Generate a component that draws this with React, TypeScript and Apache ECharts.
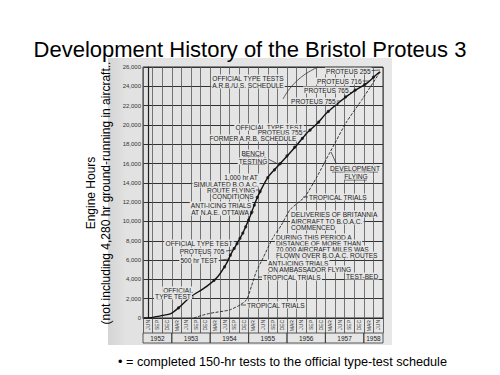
import React, { useEffect, useRef } from "react";
import * as echarts from "echarts";

// Quarter labels along the time axis (index 0 = JUN 1952, 24 = JUN 1958)
const monthLabels = [
  "JUN", "SEP", "DEC",
  "MAR", "JUN", "SEP", "DEC",
  "MAR", "JUN", "SEP", "DEC",
  "MAR", "JUN", "SEP", "DEC",
  "MAR", "JUN", "SEP", "DEC",
  "MAR", "JUN", "SEP", "DEC",
  "MAR", "JUN",
];
const yearLabels = ["1952", "1953", "1954", "1955", "1956", "1957", "1958"];

// [quarter index, cumulative engine hours]
const totalHours: [number, number][] = [
  [-0.4, 0], [0.5, 70], [1.5, 260], [2.4, 460], [3.2, 1050], [4.4, 2150],
  [6.1, 3250], [7.3, 4300], [8.2, 5650], [8.7, 6700], [9.2, 7550], [9.9, 8800],
  [10.6, 10400], [11.2, 12000], [11.8, 13300], [12.6, 14700], [13.7, 15900],
  [14.8, 17100], [15.6, 18000], [16.6, 19200], [17.7, 20200], [18.6, 21200],
  [20.0, 22400], [21.4, 23450], [22.8, 24300], [23.8, 25200], [24.2, 25500],
];

const flyingHours: [number, number][] = [
  [4.8, 0], [5.6, 260], [6.5, 490], [8.5, 830], [9.6, 1350], [10.3, 1900],
  [10.8, 3300], [11.3, 4800], [12.0, 6200], [13.0, 8250], [13.9, 9600],
  [14.8, 11200], [15.6, 11900], [16.4, 12600], [17.6, 14600], [19.0, 17200],
  [20.7, 20300], [22.4, 22750], [24.2, 25500],
];

// completed 150-hr tests to the official type-test schedule
const typeTestDots: [number, number][] = [
  [3.2, 1050], [4.4, 2150], [6.9, 3900], [8.0, 5300], [8.6, 6500], [9.0, 7200],
  [9.3, 7700], [9.6, 8250], [9.9, 8800], [10.2, 9450], [10.5, 10150],
  [10.8, 10900], [11.1, 11700], [11.4, 12500], [11.7, 13100], [12.5, 14550],
  [13.2, 15350], [13.8, 16000], [14.5, 16800], [15.3, 17700], [16.1, 18600],
  [16.9, 19450], [17.8, 20300], [18.8, 21400], [19.7, 22150], [20.6, 22900],
  [21.6, 23600], [22.6, 24200], [23.5, 24950],
];

const notes: [string, number, number, "left" | "center" | "right"][] = [
  ["OFFICIAL TYPE TESTS", 248, 78, "center"],
  ["A.R.B./U.S. SCHEDULE", 248, 85, "center"],
  ["PROTEUS 255", 325, 71, "left"],
  ["PROTEUS 716", 316, 81, "left"],
  ["PROTEUS 765", 303, 90, "left"],
  ["PROTEUS 755", 290, 101, "left"],
  ["OFFICIAL TYPE TEST", 269, 127, "center"],
  ["PROTEUS 755", 280, 132.5, "center"],
  ["FORMER A.R.B. SCHEDULE", 253, 138, "center"],
  ["BENCH", 253, 153, "center"],
  ["TESTING", 253, 161, "center"],
  ["DEVELOPMENT", 355, 168, "center"],
  ["FLYING", 356, 176, "center"],
  ["1,000 hr AT", 241, 177, "center"],
  ["SIMULATED B.O.A.C.", 226, 184, "center"],
  ["ROUTE FLYING", 231, 190, "center"],
  ["CONDITIONS", 233, 196, "center"],
  ["ANTI-ICING TRIALS", 221, 205, "center"],
  ["AT N.A.E. OTTAWA", 220, 212, "center"],
  ["TROPICAL TRIALS", 308, 197, "left"],
  ["DELIVERIES OF BRITANNIA", 290, 214, "left"],
  ["AIRCRAFT TO B.O.A.C.", 290, 221, "left"],
  ["COMMENCED", 290, 227, "left"],
  ["DURING THIS PERIOD A", 275, 237, "left"],
  ["DISTANCE OF MORE THAN", 275, 243, "left"],
  ["70,000 AIRCRAFT MILES WAS", 275, 249, "left"],
  ["FLOWN OVER B.O.A.C. ROUTES", 275, 255, "left"],
  ["ANTI-ICING TRIALS", 267, 263, "left"],
  ["ON AMBASSADOR FLYING", 267, 269, "left"],
  ["TEST-BED", 345, 276, "left"],
  ["TROPICAL TRIALS", 262, 277, "left"],
  ["OFFICIAL TYPE TEST", 199, 243, "center"],
  ["PROTEUS 705", 202, 251, "center"],
  ["500 hr TEST", 199, 260, "center"],
  ["OFFICIAL", 178, 290, "center"],
  ["TYPE TEST", 173, 296, "center"],
  ["TROPICAL TRIALS", 246, 305, "left"],
];

const leaders: [number, number, number, number][] = [
  [364, 71, 380, 70],
  [356, 81, 369, 81],
  [343, 90, 352, 93],
  [333, 101, 341, 101],
  [298, 132.5, 306, 131],
  [264, 157, 280, 165],
  [336, 163, 331, 152],
  [255, 190, 260, 190],
  [249, 211, 254, 212],
  [226, 251, 233, 250],
  [221, 260, 229, 259],
  [157, 299, 194, 297],
  [303, 197, 308, 197],
  [258, 277, 262, 277],
  [241, 305, 246, 305],
  [243, 156.5, 263, 156.5],
  [242, 164.5, 265, 164.5],
  [332, 172, 378, 172],
  [345, 180, 367, 180],
];

const FONT = "Liberation Sans, Arial, sans-serif";

export default function App() {
  const ref = useRef<HTMLDivElement>(null);
  useEffect(() => {
    document.body.style.margin = "0";
    const chart = echarts.init(ref.current!, null, { renderer: "svg" });
    chart.setOption({
      animation: false,
      grid: {
        left: 143, top: 67, width: 240, height: 251,
        show: true, borderColor: "#2a2a2a", borderWidth: 1, backgroundColor: "transparent",
      },
      xAxis: [
        {
          type: "category", data: monthLabels, boundaryGap: true,
          axisLine: { show: true, lineStyle: { color: "#2a2a2a", width: 1 } },
          axisTick: { show: true, length: 15, lineStyle: { color: "#444", width: 0.8 } },
          axisLabel: { interval: 0, rotate: 90, fontSize: 5, fontFamily: FONT, color: "#333", margin: 2 },
          splitLine: { show: true, lineStyle: { color: "#555", width: 0.8 } },
        },
        { type: "value", min: -0.5, max: 24.5, show: false },
      ],
      yAxis: {
        type: "value", min: 0, max: 26000, interval: 2000,
        axisLine: { show: true, lineStyle: { color: "#222", width: 1.2 } },
        axisTick: { show: false },
        axisLabel: {
          fontSize: 6, fontFamily: FONT, color: "#333", margin: 2,
          formatter: (v: number) => v.toLocaleString("en-US"),
        },
        splitLine: { show: true, lineStyle: { color: "#333", width: 1 } },
      },
      series: [
        {
          name: "Total engine hours", type: "line", xAxisIndex: 1, data: totalHours,
          showSymbol: false, smooth: 0.25, lineStyle: { color: "#111", width: 1.4 }, z: 3,
        },
        {
          name: "Development flying", type: "line", xAxisIndex: 1, data: flyingHours,
          showSymbol: false, smooth: 0.2, lineStyle: { color: "#222", width: 0.9, type: [3, 1.5] }, z: 3,
        },
        {
          name: "150-hr tests", type: "scatter", xAxisIndex: 1, data: typeTestDots,
          symbolSize: 3.2, itemStyle: { color: "#111" }, z: 4,
        },
      ],
    });

    const graphics: any[] = [];
    // year boxes
    const yearStarts: number[] = [];
    monthLabels.forEach((m, i) => { if (i === 0 || m === "MAR") yearStarts.push(i); });
    yearLabels.forEach((yl, k) => {
      const s = yearStarts[k];
      const e = k + 1 < yearStarts.length ? yearStarts[k + 1] - 1 : monthLabels.length - 1;
      const x0 = chart.convertToPixel({ xAxisIndex: 1 }, s - 0.5) as number;
      const x1 = chart.convertToPixel({ xAxisIndex: 1 }, e + 0.5) as number;
      graphics.push({
        type: "rect", shape: { x: x0, y: 333, width: x1 - x0, height: 10 },
        style: { fill: "none", stroke: "#333", lineWidth: 0.8 },
      });
      graphics.push({
        type: "text", x: (x0 + x1) / 2, y: 338.5,
        style: { text: yl, fontSize: 6.5, fontFamily: FONT, fill: "#222", textAlign: "center", textVerticalAlign: "middle" },
      });
    });
    leaders.forEach(([x1, y1, x2, y2]) => {
      graphics.push({ type: "line", shape: { x1, y1, x2, y2 }, style: { stroke: "#222", lineWidth: 0.7 }, z: 5 });
    });
    graphics.push({
      type: "polyline", shape: { points: [[283, 99], [291, 87], [304, 75], [318, 67]], smooth: 0.4 },
      style: { stroke: "#222", lineWidth: 0.7, fill: "none" }, z: 5,
    });
    notes.forEach(([t, x, y, a]) => {
      graphics.push({
        type: "text", x, y, z: 6,
        style: {
          text: t, fontSize: 6.6, fontFamily: FONT, fill: "#1a1a1a", textAlign: a, textVerticalAlign: "middle",
          backgroundColor: "#e6e6e6", padding: [0, 1],
        },
      });
    });
    // titles and axis caption
    graphics.push({
      type: "text", x: 250, y: 49,
      style: { text: "Development History of the Bristol Proteus 3", fontSize: 22, fontFamily: FONT, fill: "#000", textAlign: "center", textVerticalAlign: "middle" },
    });
    graphics.push({
      type: "text", x: 91, y: 193, rotation: Math.PI / 2,
      style: { text: "Engine Hours", fontSize: 12, fontFamily: FONT, fill: "#000", textAlign: "center", textVerticalAlign: "middle" },
    });
    graphics.push({
      type: "text", x: 106, y: 193, rotation: Math.PI / 2,
      style: { text: "(not including 4,280 hr ground-running in aircraft..", fontSize: 12, fontFamily: FONT, fill: "#000", textAlign: "center", textVerticalAlign: "middle" },
    });
    graphics.push({
      type: "text", x: 118, y: 362,
      style: { text: "\u2022 = completed 150-hr tests to the official type-test schedule", fontSize: 12.7, fontFamily: FONT, fill: "#000", textAlign: "left", textVerticalAlign: "middle" },
    });
    chart.setOption({ graphic: graphics });
    return () => chart.dispose();
  }, []);

  return (
    <div style={{ position: "fixed", left: 0, top: 0, width: 500, height: 375, background: "#fff" }}>
      <div
        style={{
          position: "absolute", left: 108, top: 58, width: 284, height: 287,
          background: "linear-gradient(90deg, #d4d4d4 0px, #e2e2e2 18px, #e7e7e7 100%)",
        }}
      />
      <div ref={ref} style={{ position: "absolute", left: 0, top: 0, width: 500, height: 375 }} />
    </div>
  );
}
